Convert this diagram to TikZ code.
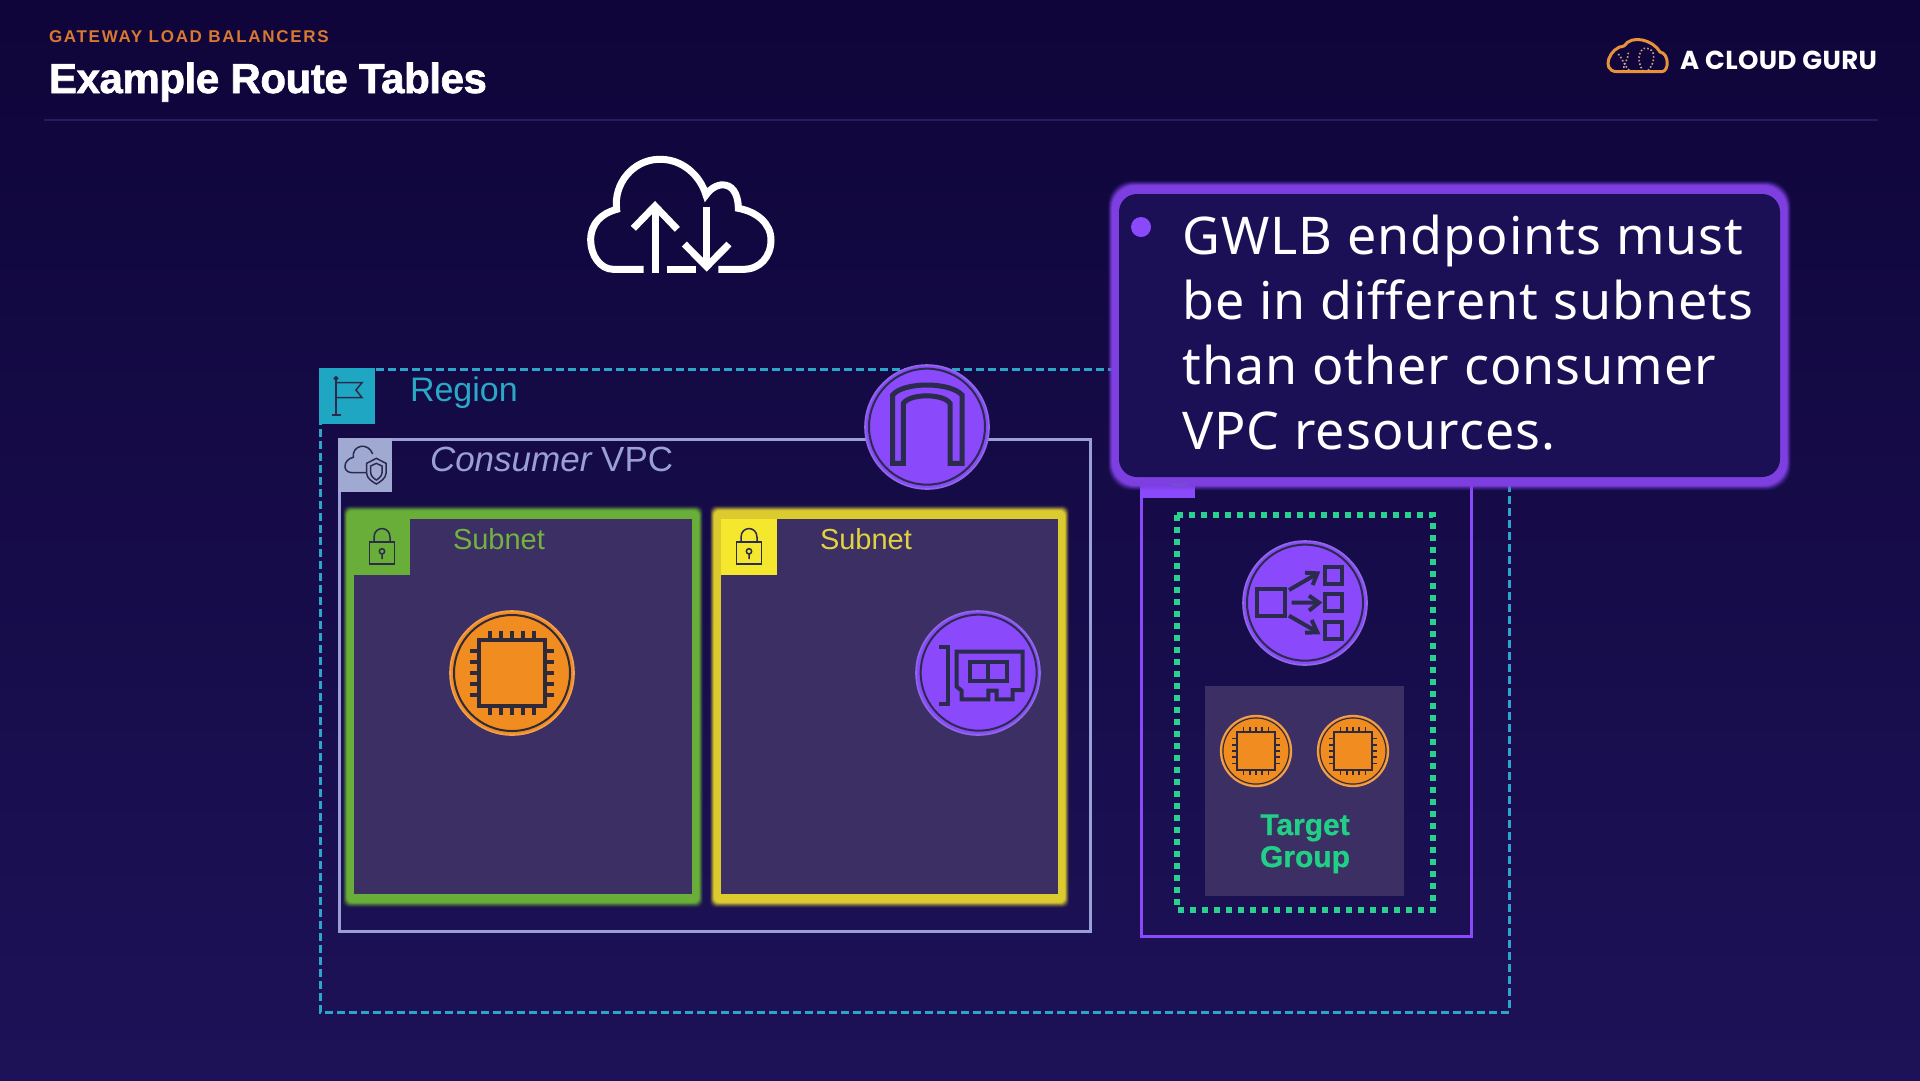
\documentclass[tikz,border=0pt]{standalone}
\usepackage{fontspec}
\setmainfont{Liberation Sans}
\newfontfamily\spacedfont[LetterSpace=2]{Noto Sans}
\newfontfamily\eyebrowfont[LetterSpace=10]{Liberation Sans}
\newfontfamily\titlefont[FakeBold=1.6,LetterSpace=-1]{Liberation Sans Bold}
\newfontfamily\tgfont[FakeBold=0.8]{Liberation Sans Bold}
\newfontfamily\logofont[LetterSpace=1.5]{Poppins}
\definecolor{bgtop}{HTML}{0F053A}
\definecolor{bgmid}{HTML}{160C48}
\definecolor{bgbot}{HTML}{1D1257}
\definecolor{hdrline}{HTML}{251B5E}
\definecolor{eyebrow}{HTML}{D9782F}
\definecolor{regionc}{HTML}{2BA5C9}
\definecolor{regionsq}{HTML}{1FA6C2}
\definecolor{regiontx}{HTML}{2AA8C6}
\definecolor{vpcc}{HTML}{9A9FD6}
\definecolor{vpcsq}{HTML}{A0A9D2}
\definecolor{subfill}{HTML}{3C2F63}
\definecolor{greenb}{HTML}{68AE38}
\definecolor{greentx}{HTML}{72B33F}
\definecolor{yellowb}{HTML}{DCCB2F}
\definecolor{yellowsq}{HTML}{F5E62E}
\definecolor{yellowtx}{HTML}{E2D23F}
\definecolor{purp}{HTML}{8A49FB}
\definecolor{purpedge}{HTML}{8F68E6}
\definecolor{purpb}{HTML}{7E3FE0}
\definecolor{calloutfill}{HTML}{1B0F55}
\definecolor{orangef}{HTML}{F08C20}
\definecolor{orangeedge}{HTML}{F2A050}
\definecolor{icondark}{HTML}{2B2B4E}
\definecolor{chipdark}{HTML}{2E2A3A}
\definecolor{tgreen}{HTML}{22CF86}
\definecolor{dotgreen}{HTML}{2AD08E}
\definecolor{logoor}{HTML}{E8923A}
\definecolor{logodot}{HTML}{C9A284}
\definecolor{gwicon}{HTML}{6E55C8}
\tikzset{
  x=1pt,y=-1pt,
  lbl/.style={inner sep=0pt,outer sep=0pt,anchor=base west},
  disc/.style={circle,inner sep=0pt,outer sep=0pt,line width=1.6pt},
  purpledisc/.style={disc,fill=purp,draw=purpedge},
  orangedisc/.style={disc,fill=orangef,draw=orangeedge},
  iconline/.style={draw=icondark,line width=4pt,line join=miter},
  thinicon/.style={draw=#1,line width=1.5pt},
  subnetlabel/.style={lbl,font=\fontsize{29}{29}\selectfont},
}
% x1 y1 x2 y2 colour radius
\newcommand\glowbox[6]{%
  \foreach \e/\o in {1.6/.08,1.5/.12,1.4/.2,1.3/.3,1.2/.45,1.1/.7,1/1}{%
    \fill[#5,opacity=\o,rounded corners=#6]
      ({#1-7*\e},{#2-8.5*\e}) rectangle ({#3+7*\e},{#4+8.5*\e});}%
}
\newcommand\chipicon[4]{% name x y scale
  \node[orangedisc,minimum size=#4*124pt] (#1) at (#2,#3) {};
  \begin{scope}[shift={(#2,#3)},scale=#4]
    \draw[chipdark,line width=#4*2pt] (0,0) circle[radius=58];
    \draw[chipdark,line width=#4*3.2pt] (-33,-33) rectangle (33,33);
    \foreach \t in {-22,-11,0,11,22}{
      \draw[chipdark,line width=#4*3.2pt] (\t,-33) -- (\t,-42) (\t,33) -- (\t,42)
        (-33,\t) -- (-42,\t) (33,\t) -- (42,\t);}
  \end{scope}
}
\newcommand\lockicon[3]{% x y colour(top-left of square)
  \begin{scope}[shift={(#1,#2)},scale=1/3]
    \draw[thinicon=#3] (46,69) rectangle (122,135);
    \draw[thinicon=#3] (60,69) -- (60,55) .. controls (60,20) and (108,20) .. (108,55) -- (108,69);
    \draw[thinicon=#3] (84,97) circle[radius=8] (84,105) -- (84,120);
  \end{scope}
}
\begin{document}
\begin{tikzpicture}
\useasboundingbox (0,0) rectangle (1920,1080);
\shade[top color=bgtop,middle color=bgmid,bottom color=bgbot] (0,0) rectangle (1920,1080);

% header
\node[lbl,text=eyebrow,font=\eyebrowfont\bfseries\fontsize{17}{17}\selectfont] (eyebrowtext) at (49,42) {GATEWAY LOAD BALANCERS};
\node[lbl,text=white,font=\titlefont\fontsize{42}{42}\selectfont] (titletext) at (49,93) {Example Route Tables};
\draw[hdrline,line width=2pt] (44,120) -- (1878,120);

% logo
\begin{scope}[shift={(1600,30)},scale=1/3]
  \draw[logoor,line width=3pt,line join=round]
    (50,125) -- (185,125) .. controls (208,125) and (208,70) .. (180,66)
    .. controls (160,30) and (95,12) .. (72,48) .. controls (30,50) and (0,122) .. (50,125) -- cycle;
  \draw[logodot,line width=1.6pt,dotted] (130,124) .. controls (105,90) and (120,50) .. (140,55)
    .. controls (165,55) and (170,95) .. (142,124);
  \draw[logodot,line width=1.6pt,dotted] (55,72) .. controls (70,90) and (75,110) .. (90,124)
    (85,68) .. controls (85,90) and (70,100) .. (70,122);
\end{scope}
\node[lbl,text=white,font=\logofont\bfseries\fontsize{26}{26}\selectfont] (logotext) at (1680,69) {A CLOUD GURU};

% internet cloud
\begin{scope}[shift={(570,140)},scale=1/3,white,line width=7pt]
  \draw (221,388) -- (130,388) .. controls (90,388) and (62,345) .. (62,300)
    .. controls (62,250) and (95,220) .. (140,208)
    .. controls (130,130) and (190,60) .. (265,58) .. controls (335,55) and (390,105) .. (408,165)
    .. controls (425,140) and (450,132) .. (465,135) .. controls (495,140) and (505,175) .. (505,205)
    .. controls (560,215) and (603,250) .. (603,300)
    .. controls (603,350) and (570,388) .. (520,388) -- (445,388);
  \draw (290,388) -- (378,388);
  \draw (255,398) -- (255,198);
  \draw[line join=miter] (190,265) -- (255,198) -- (322,268);
  \draw (410,200) -- (410,380);
  \draw[line join=miter] (343,312) -- (410,380) -- (477,312);
\end{scope}

% region
\draw[regionc,line width=3pt,dash pattern=on 8pt off 4pt] (320,369) rectangle (1509,1012);
\fill[regionsq] (319,368) rectangle (375,424);
\begin{scope}[shift={(300,350)},scale=1/3]
  \draw[thinicon=icondark] (108,85) -- (108,195) (95,195) -- (122,195);
  \draw[thinicon=icondark] (108,85) circle[radius=5];
  \draw[thinicon=icondark] (108,98) -- (186,98) -- (168,120) -- (186,143) -- (108,143);
\end{scope}
\node[lbl,text=regiontx,font=\fontsize{34}{34}\selectfont] (regiontext) at (410,401) {Region};

% consumer VPC
\draw[vpcc,line width=3pt] (339,439) rectangle (1090,931);
\fill[vpcsq] (338,438) rectangle (392,492);
\begin{scope}[shift={(300,350)},scale=1/3]
  \draw[thinicon=icondark] (198,368) -- (155,368) .. controls (125,366) and (130,328) .. (160,322)
    .. controls (155,285) and (205,275) .. (218,312);
  \draw[thinicon=icondark] (229,325) -- (258,340) -- (258,370) .. controls (258,385) and (240,396) .. (229,402)
    .. controls (218,396) and (200,385) .. (200,370) -- (200,340) -- cycle;
  \draw[thinicon=icondark] (229,340) -- (246,348) -- (246,368) .. controls (246,378) and (236,386) .. (229,390)
    .. controls (222,386) and (212,378) .. (212,368) -- (212,348) -- cycle;
\end{scope}
\node[lbl,text=vpcc,font=\fontsize{35}{35}\selectfont] (vpctext) at (430,471) {\itshape Consumer\upshape{} VPC};

% subnets
\glowbox{354}{519}{692}{894}{greenb}{6pt}
\fill[subfill] (354,519) rectangle (692,894);
\fill[greenb] (354,519) rectangle (410,575);
\lockicon{354}{519}{icondark}
\node[subnetlabel,text=greentx] (subnetone) at (453,549) {Subnet};

\glowbox{721}{519}{1058}{894}{yellowb}{6pt}
\fill[subfill] (721,519) rectangle (1058,894);
\fill[yellowsq] (721,519) rectangle (777,575);
\lockicon{721}{519}{icondark}
\node[subnetlabel,text=yellowtx] (subnettwo) at (820,549) {Subnet};

% instance
\chipicon{ecmain}{512}{673}{1}

% ENI
\node[purpledisc,minimum size=124pt] (eni) at (978,673) {};
\begin{scope}[shift={(700,350)},scale=1/3]
  \draw[icondark,line width=2pt] (836,968) circle[radius=174];
  \draw[iconline] (718,892) -- (745,892) -- (745,1062) -- (718,1062);
  \draw[iconline] (770,905) -- (968,905) -- (968,1020) -- (938,1020) -- (938,1048) -- (890,1048)
    -- (890,1022) -- (865,1022) -- (865,1048) -- (785,1048) -- (785,1022) -- (770,1010) -- cycle;
  \draw[iconline] (810,937) rectangle (920,992) (865,937) -- (865,992);
\end{scope}

% internet gateway
\node[purpledisc,minimum size=124pt] (igw) at (927,427) {};
\begin{scope}[shift={(700,350)},scale=1/3]
  \draw[icondark,line width=2pt] (681,230) circle[radius=174];
  \draw[iconline,line width=5pt] (578,340) -- (578,135) .. controls (610,95) and (750,95) .. (786,135) -- (786,340)
    -- (750,340) -- (750,160) .. controls (730,130) and (630,130) .. (610,160) -- (610,340) -- cycle;
\end{scope}

% GWLB VPC
\draw[purp,line width=3pt] (1141,470) rectangle (1471,936);
\fill[purp] (1140,470) rectangle (1195,498);
\draw[dotgreen,line width=6pt,dash pattern=on 6pt off 6pt] (1177,515) rectangle (1433,910);
\node[purpledisc,minimum size=124pt] (gwlb) at (1305,603) {};
\begin{scope}[shift={(1120,450)},scale=1/3]
  \draw[icondark,line width=2pt] (555,458) circle[radius=174];
  \draw[iconline] (412,418) rectangle (495,498);
  \draw[iconline] (615,352) rectangle (665,402) (615,433) rectangle (665,483) (615,515) rectangle (665,567);
  \draw[iconline] (507,420) -- (590,372) (515,458) -- (597,458) (507,497) -- (590,545);
  \draw[iconline] (555,368) -- (592,370) -- (578,405) (567,437) -- (597,458) -- (567,482) (555,548) -- (592,547) -- (575,510);
\end{scope}
\fill[subfill] (1205,686) rectangle (1404,896);
\chipicon{ectargeta}{1256}{751}{.57}
\chipicon{ectargetb}{1353}{751}{.57}
\node[inner sep=0pt,text=tgreen,align=center,anchor=base,font=\tgfont\fontsize{30}{32}\selectfont] (tgtext) at (1305,867) {Target\\Group};

% callout
\glowbox{1119}{194}{1780}{477}{purpb}{24pt}
\fill[calloutfill,rounded corners=18pt] (1119,194) rectangle (1780,477);
\begin{scope}[shift={(1120,450)},scale=1/3]
  \draw[gwicon,line width=1pt] (150,98) .. controls (160,112) and (190,112) .. (200,98);
  \draw[gwicon,line width=1pt] (160,100) .. controls (168,106) and (182,106) .. (190,100);
\end{scope}
\fill[purp] (1141,227) ellipse[x radius=10,y radius=10];
\node[inner sep=0pt,text=white,align=left,anchor=base west,font=\spacedfont\fontsize{52}{64.7}\selectfont] (callouttext) at (1182,449)
  {GWLB endpoints must\\be in different subnets\\than other consumer\\VPC resources.};
\end{tikzpicture}
\end{document}
